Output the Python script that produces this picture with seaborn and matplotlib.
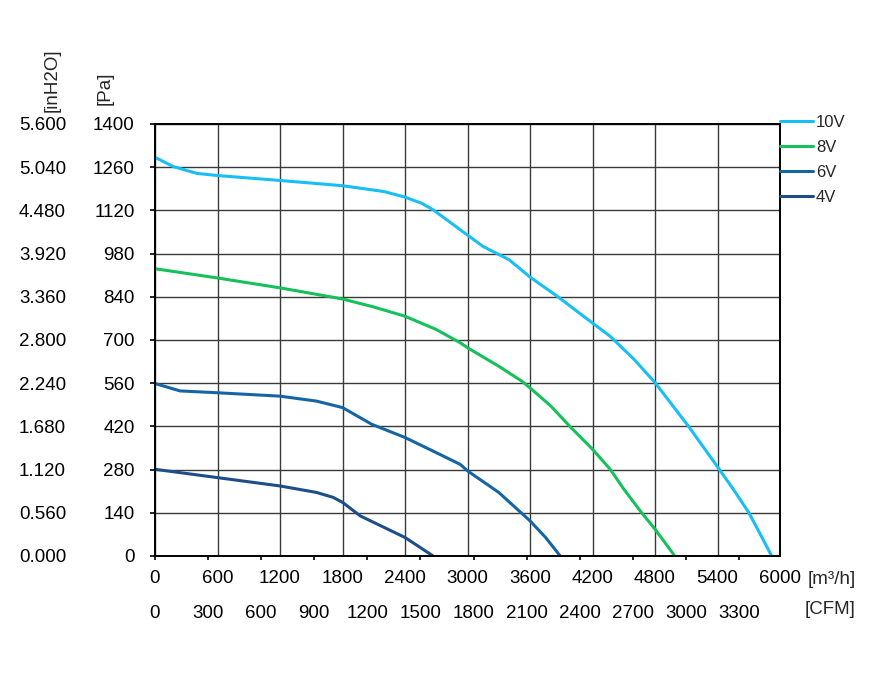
import numpy as np
import pandas as pd
import seaborn as sns
import matplotlib.pyplot as plt

# curve points (airflow m3/h, static pressure Pa)
flow_10v = [0, 176, 400, 600, 1200, 1800, 2200, 2400, 2560, 2670, 3000, 3150, 3400, 3600, 3860, 4200, 4370, 4600,
            4800, 5120, 5400, 5550, 5700, 5810, 5920]
pa_10v = [1292, 1262, 1240, 1233, 1217, 1200, 1181, 1163, 1143, 1122, 1040, 1003, 960, 904, 842, 755, 712, 637,
          562, 421, 289, 217, 141, 71, 0]

flow_8v = [0, 600, 1200, 1800, 2100, 2400, 2700, 2930, 3000, 3300, 3520, 3600, 3800, 3980, 4200, 4370, 4500, 4670, 4800, 4990]
pa_8v = [931, 901, 869, 833, 807, 777, 734, 691, 675, 615, 567, 545, 486, 421, 346, 281, 217, 141, 87, 0]

flow_6v = [0, 240, 600, 1200, 1550, 1800, 2080, 2400, 2700, 2930, 3000, 3300, 3600, 3750, 3890]
pa_6v = [559, 535, 529, 518, 502, 481, 427, 384, 335, 297, 276, 206, 114, 60, 0]

flow_4v = [0, 600, 1200, 1550, 1710, 1800, 1970, 2400, 2670]
pa_4v = [281, 254, 227, 206, 190, 174, 130, 60, 0]

speeds = ['10V', '8V', '6V', '4V']
colors = ['#17bff2', '#16c05a', '#1565a5', '#1d4e89']

x_ticks = list(range(0, 6001, 600))
y_ticks = list(range(0, 1401, 140))
cfm_ticks = list(range(0, 3301, 300))
M3H_PER_CFM = 1.699
INH2O_PER_PA = 0.004

curves = pd.concat([
    pd.DataFrame({'flow': flow_10v, 'pa': pa_10v, 'speed': '10V'}),
    pd.DataFrame({'flow': flow_8v, 'pa': pa_8v, 'speed': '8V'}),
    pd.DataFrame({'flow': flow_6v, 'pa': pa_6v, 'speed': '6V'}),
    pd.DataFrame({'flow': flow_4v, 'pa': pa_4v, 'speed': '4V'}),
])

sns.set_theme(style='white')
plt.rcParams['font.family'] = ['Liberation Sans', 'DejaVu Sans']
FS = 13.5

fig = plt.figure(figsize=(8.75, 6.73), dpi=100)
ax = fig.add_axes([155 / 875, 117 / 673, 625 / 875, 432 / 673])

sns.lineplot(data=curves, x='flow', y='pa', hue='speed', hue_order=speeds,
             palette=dict(zip(speeds, colors)), sort=False, estimator=None,
             linewidth=2.2, ax=ax)

ax.set_xlim(0, 6000)
ax.set_ylim(0, 1400)
ax.set_xticks(x_ticks)
ax.set_yticks(y_ticks)
ax.grid(True, color='#3a3a3a', linewidth=1.0)
ax.set_axisbelow(True)
for s in ax.spines.values():
    s.set_color('black')
    s.set_linewidth(1.4)
ax.tick_params(axis='x', length=0, pad=10, labelsize=FS, colors='black')
ax.tick_params(axis='y', length=3.5, width=1.2, direction='out', left=True,
               pad=11, labelsize=FS, colors='black')
ax.set_xlabel('')
ax.set_ylabel('')

# CFM axis underneath
cfm = ax.secondary_xaxis('bottom', functions=(lambda v: v / M3H_PER_CFM, lambda v: v * M3H_PER_CFM))
cfm.set_xticks(cfm_ticks)
cfm.tick_params(length=3, width=1.2, direction='out', pad=32, labelsize=FS, colors='black')
cfm.spines['bottom'].set_visible(False)

# inH2O axis on the left
inh = ax.secondary_yaxis('left', functions=(lambda v: v * INH2O_PER_PA, lambda v: v / INH2O_PER_PA))
inh.set_yticks([t * INH2O_PER_PA for t in y_ticks])
inh.set_yticklabels([f'{t * INH2O_PER_PA:.3f}' for t in y_ticks])
inh.tick_params(length=0, pad=64, labelsize=FS, colors='black')
inh.spines['left'].set_visible(False)

fig.text(52 / 875, 1 - 112 / 673, '[inH2O]', rotation=90, ha='center', va='bottom', fontsize=FS)
fig.text(105 / 875, 1 - 105 / 673, '[Pa]', rotation=90, ha='center', va='bottom', fontsize=FS)
fig.text(856 / 875, 1 - 580 / 673, '[m³/h]', ha='right', va='center', fontsize=FS)
fig.text(856 / 875, 1 - 610 / 673, '[CFM]', ha='right', va='center', fontsize=FS)

ax.legend(loc='upper left', bbox_to_anchor=(1.0, 1.0 + 9 / 432), frameon=False,
          fontsize=12, handlelength=2.0, handletextpad=0.15, borderpad=0,
          borderaxespad=0, labelspacing=0.6)

fig.savefig('out.png', dpi=100)
